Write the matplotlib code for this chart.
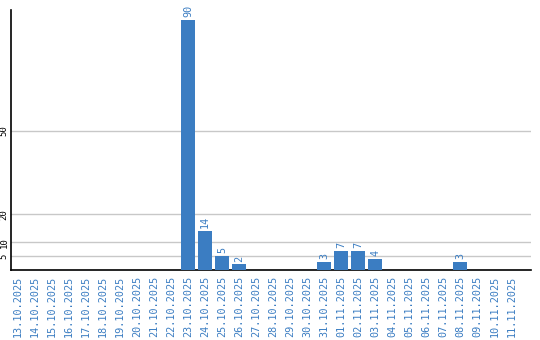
import matplotlib
matplotlib.use("Agg")
import matplotlib.pyplot as plt

# дни и значения
dates = ["13.10.2025", "14.10.2025", "15.10.2025", "16.10.2025", "17.10.2025",
         "18.10.2025", "19.10.2025", "20.10.2025", "21.10.2025", "22.10.2025",
         "23.10.2025", "24.10.2025", "25.10.2025", "26.10.2025", "27.10.2025",
         "28.10.2025", "29.10.2025", "30.10.2025", "31.10.2025", "01.11.2025",
         "02.11.2025", "03.11.2025", "04.11.2025", "05.11.2025", "06.11.2025",
         "07.11.2025", "08.11.2025", "09.11.2025", "10.11.2025", "11.11.2025"]
values = [0, 0, 0, 0, 0, 0, 0, 0, 0, 0,
          90, 14, 5, 2, 0, 0, 0, 0, 3, 7,
          7, 4, 0, 0, 0, 0, 3, 0, 0, 0]
yticks = [5, 10, 20, 50]

BLUE = "#3b7dc2"
MONO = "DejaVu Sans Mono"

fig = plt.figure(figsize=(5.4, 3.4), dpi=100)
ax = fig.add_axes([10.5/540, 1-270/340, (531-10.5)/540, 260/340])

x = list(range(len(dates)))
ax.bar(x, values, width=14/17, color=BLUE, zorder=3)

for xi, v in zip(x, values):
    if v > 0:
        ax.text(xi, v + 1.0, str(v), rotation=90, ha="center", va="bottom",
                color=BLUE, fontsize=7.3, family=MONO)

ax.set_xlim(-0.44, 30.15)
ax.set_ylim(0, 93.5)
ax.set_yticks(yticks)
ax.set_yticklabels([str(t) for t in yticks], rotation=90, va="center",
                   fontsize=6.5, family=MONO)
ax.grid(axis="y", color="#c8c8c8", lw=1, zorder=0)
ax.set_xticks(x)
ax.set_xticklabels(dates, rotation=90, fontsize=7.3, family=MONO, color=BLUE)
ax.tick_params(length=0, pad=4)
ax.tick_params(axis="y", pad=1.5)

for s in ["top", "right"]:
    ax.spines[s].set_visible(False)
for s in ["left", "bottom"]:
    ax.spines[s].set_color("black")
    ax.spines[s].set_linewidth(1.2)

plt.savefig("out.png", dpi=100)
